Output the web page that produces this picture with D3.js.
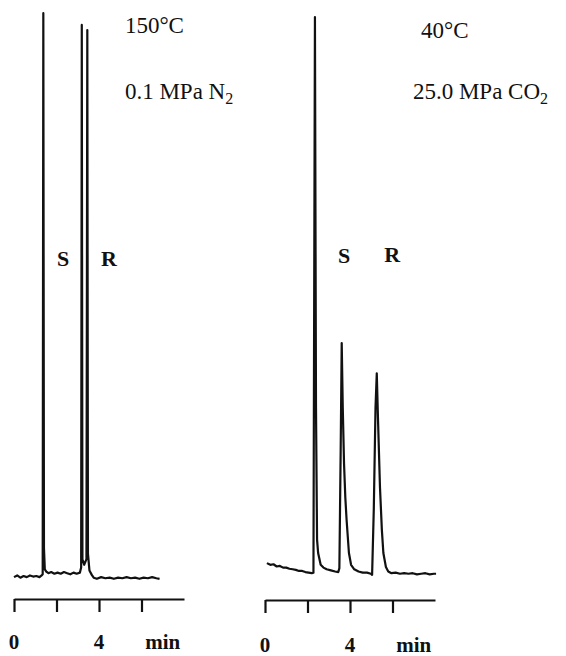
<!DOCTYPE html>
<html>
<head>
<meta charset="utf-8">
<script src="https://cdn.jsdelivr.net/npm/d3@7"></script>
<style>
  body { margin: 0; background: #fff; }
  svg { display: block; }
  .trace { fill: none; stroke: #111; stroke-width: 2.2; stroke-linejoin: round; }
  .axis path, .axis line { stroke: #111; stroke-width: 2.2; }
  text { font-family: "Liberation Serif", "Times New Roman", serif; fill: #111; }
</style>
</head>
<body>
<svg width="566" height="656"></svg>
<script>
// chromatogram at 150°C, 0.1 MPa N2  [time (min), detector signal (a.u.)]
const gcTrace = [
  [0.00,-0.2],[0.15,0.1],[0.30,-0.3],[0.45,0.0],[0.60,-0.2],[0.75,0.1],[0.90,-0.1],
  [1.05,0.0],[1.20,-0.2],[1.30,0.1],[1.35,0.3],[1.38,100.5],[1.41,5.0],[1.45,1.2],
  [1.52,0.8],[1.62,0.5],[1.75,0.7],[1.90,0.4],[2.05,0.6],[2.20,0.4],[2.35,0.7],
  [2.50,0.5],[2.65,0.3],[2.80,0.6],[2.95,0.4],[3.10,0.6],[3.16,1.5],[3.19,98.4],
  [3.22,3.0],[3.30,2.0],[3.41,3.0],[3.45,97.5],[3.48,4.0],[3.55,1.0],[3.66,0.2],
  [3.75,-0.3],[3.90,-0.5],[4.10,-0.2],[4.30,-0.4],[4.50,-0.3],[4.70,-0.5],[4.90,-0.3],
  [5.10,-0.4],[5.30,-0.2],[5.50,-0.4],[5.70,-0.3],[5.90,-0.5],[6.10,-0.3],[6.30,-0.4],
  [6.50,-0.2],[6.70,-0.4],[6.85,-0.5]
];

// chromatogram at 40°C, 25.0 MPa CO2
const sfcTrace = [
  [0.09,2.3],[0.25,2.0],[0.40,2.1],[0.55,1.7],[0.70,1.8],[0.85,1.5],[1.00,1.5],
  [1.15,1.3],[1.30,1.2],[1.45,1.1],[1.60,0.9],[1.75,0.9],[1.90,0.7],[2.05,0.6],
  [2.20,0.5],[2.28,0.6],[2.35,99.8],[2.40,30.0],[2.45,6.5],[2.50,4.1],[2.62,2.0],
  [2.75,1.5],[2.90,1.2],[3.10,1.0],[3.30,0.8],[3.45,0.7],[3.50,1.4],[3.56,22.0],
  [3.61,41.6],[3.66,30.0],[3.72,20.0],[3.78,14.0],[3.84,10.0],[3.95,4.1],[4.05,2.0],
  [4.20,1.2],[4.40,0.8],[4.60,0.6],[4.80,0.6],[4.98,0.4],[5.04,0.2],[5.12,12.0],
  [5.20,30.0],[5.26,36.2],[5.31,29.0],[5.41,15.9],[5.50,8.2],[5.57,4.1],[5.69,1.6],
  [5.80,0.8],[5.95,0.5],[6.15,0.6],[6.35,0.4],[6.55,0.5],[6.75,0.4],[6.95,0.5],
  [7.15,0.3],[7.35,0.4],[7.55,0.5],[7.75,0.3],[7.95,0.4],[8.05,0.4]
];

const tickTimes = [0, 2, 4, 6];
const tickLabels = [[0, "0"], [4, "4"], [7, "min"]];

// peak labels [time, signal, text]
const gcPeaks = [[2.31, 55.4, "S"], [4.47, 55.4, "R"]];
const sfcPeaks = [[3.72, 55.9, "S"], [5.98, 56.1, "R"]];

// run conditions [time, signal, text, subscript]
const gcCond = [[5.22, 97.0, "150°C", ""], [5.22, 85.2, "0.1 MPa N", "2"]];
const sfcCond = [[7.34, 96.1, "40°C", ""], [6.96, 85.2, "25.0 MPa CO", "2"]];

const svg = d3.select("svg");

const y = d3.scaleLinear().domain([0, 100]).range([576, 16]);

const panels = [
  {trace: gcTrace, peaks: gcPeaks, cond: gcCond, range: [14, 184], axisY: 599, labelY: 649},
  {trace: sfcTrace, peaks: sfcPeaks, cond: sfcCond, range: [265, 435], axisY: 600, labelY: 652}
];

panels.forEach(function(p) {
  const x = d3.scaleLinear().domain([0, 8]).range(p.range);

  const line = d3.line()
    .x(d => x(d[0]))
    .y(d => y(d[1]));

  svg.append("path")
    .datum(p.trace)
    .attr("class", "trace")
    .attr("d", line);

  // time axis, ticks hanging down
  svg.append("g")
    .attr("class", "axis")
    .attr("transform", "translate(0," + p.axisY + ")")
    .call(d3.axisBottom(x).tickValues(tickTimes).tickSize(13).tickSizeOuter(0).tickFormat(""))
    .call(g => g.selectAll("text").remove());

  svg.selectAll(null)
    .data(tickLabels)
    .enter()
    .append("text")
    .attr("x", d => x(d[0]))
    .attr("y", p.labelY)
    .attr("text-anchor", "middle")
    .style("font-weight", "bold")
    .style("font-size", "21px")
    .text(d => d[1]);

  svg.selectAll(null)
    .data(p.peaks)
    .enter()
    .append("text")
    .attr("x", d => x(d[0]))
    .attr("y", d => y(d[1]))
    .attr("text-anchor", "middle")
    .style("font-weight", "bold")
    .style("font-size", "22px")
    .text(d => d[2]);

  const cond = svg.selectAll(null)
    .data(p.cond)
    .enter()
    .append("text")
    .attr("x", d => x(d[0]))
    .attr("y", d => y(d[1]))
    .style("font-size", "23px")
    .text(d => d[2]);
  cond.filter(d => d[3] != "")
    .append("tspan")
    .attr("dy", 5)
    .style("font-size", "16px")
    .text(d => d[3]);
});
</script>
</body>
</html>
